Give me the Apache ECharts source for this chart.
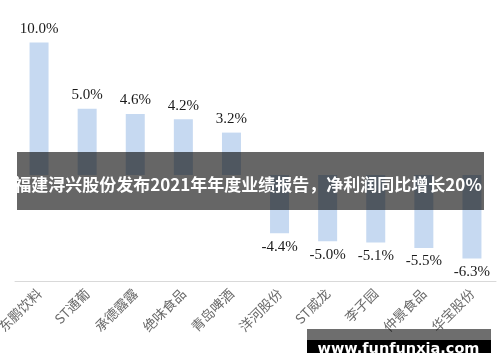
<!DOCTYPE html>
<html>
<head>
<meta charset="utf-8">
<script src="https://cdn.jsdelivr.net/npm/echarts@6/dist/echarts.min.js"></script>
<style>html,body{margin:0;padding:0;background:#fff;}#c{width:500px;height:362px;}</style>
</head>
<body>
<div id="c"></div>
<script>
var categories = ['东鹏饮料','ST通葡','承德露露','绝味食品','青岛啤酒','洋河股份','ST威龙','李子园','仲景食品','华宝股份'];
var values = [10.0, 5.0, 4.6, 4.2, 3.2, -4.4, -5.0, -5.1, -5.5, -6.3];
var bannerTitle = '福建浔兴股份发布2021年年度业绩报告，净利润同比增长20%';
var watermark = 'www.funfunxia.com';

var chart = echarts.init(document.getElementById('c'), null, {renderer: 'canvas'});
var barData = values.map(function (v) {
  return {
    value: v,
    label: { position: v >= 0 ? 'top' : 'bottom' }
  };
});
chart.setOption({
  animation: false,
  backgroundColor: '#ffffff',
  grid: { left: 15, right: 4, top: 16, height: 265, containLabel: false, outerBoundsMode: 'none' },
  xAxis: [{
    type: 'category',
    data: categories,
    position: 'bottom',
    axisLine: { show: false },
    axisTick: { show: false },
    axisLabel: {
      rotate: 45,
      margin: 10,
      interval: 0,
      fontSize: 13.5,
      color: '#6a6a6a',
      fontFamily: 'Noto Sans CJK SC'
    }
  }, {
    type: 'category',
    data: categories,
    position: 'bottom',
    axisLine: { show: true, onZero: true, lineStyle: { color: '#d9d9d9', width: 1 } },
    axisTick: { show: false },
    axisLabel: { show: false }
  }],
  yAxis: {
    type: 'value',
    min: -8,
    max: 12,
    interval: 4,
    show: false,
    splitLine: { show: false }
  },
  series: [{
    type: 'bar',
    xAxisIndex: 0,
    data: barData,
    barWidth: 19,
    itemStyle: { color: '#c6d9f1' },
    label: {
      show: true,
      distance: 6,
      fontSize: 15,
      fontFamily: 'Liberation Serif',
      color: '#1a1a1a',
      formatter: function (p) { return p.value.toFixed(1) + '%'; }
    }
  }],
  graphic: [{
    type: 'rect',
    shape: { x: 17, y: 152, width: 467, height: 58 },
    style: { fill: 'rgba(0,0,0,0.6)' },
    z: 100
  }, {
    type: 'text',
    x: 248,
    y: 184.5,
    style: {
      text: bannerTitle,
      fill: '#ffffff',
      font: 'bold 17px "Noto Sans CJK SC"',
      textAlign: 'center',
      textVerticalAlign: 'middle'
    },
    z: 101
  }, {
    type: 'rect',
    shape: { x: 307, y: 329, width: 184, height: 11 },
    style: { fill: 'rgba(0,0,0,0.57)' },
    z: 100
  }, {
    type: 'rect',
    shape: { x: 307, y: 340, width: 184, height: 13 },
    style: { fill: '#000000' },
    z: 100
  }, {
    type: 'text',
    x: 398.5,
    y: 341.5,
    style: {
      text: watermark,
      fill: '#ffffff',
      font: 'bold 14.5px "DejaVu Sans"',
      textAlign: 'center',
      textBaseline: 'alphabetic'
    },
    z: 101
  }]
});
</script>
</body>
</html>
